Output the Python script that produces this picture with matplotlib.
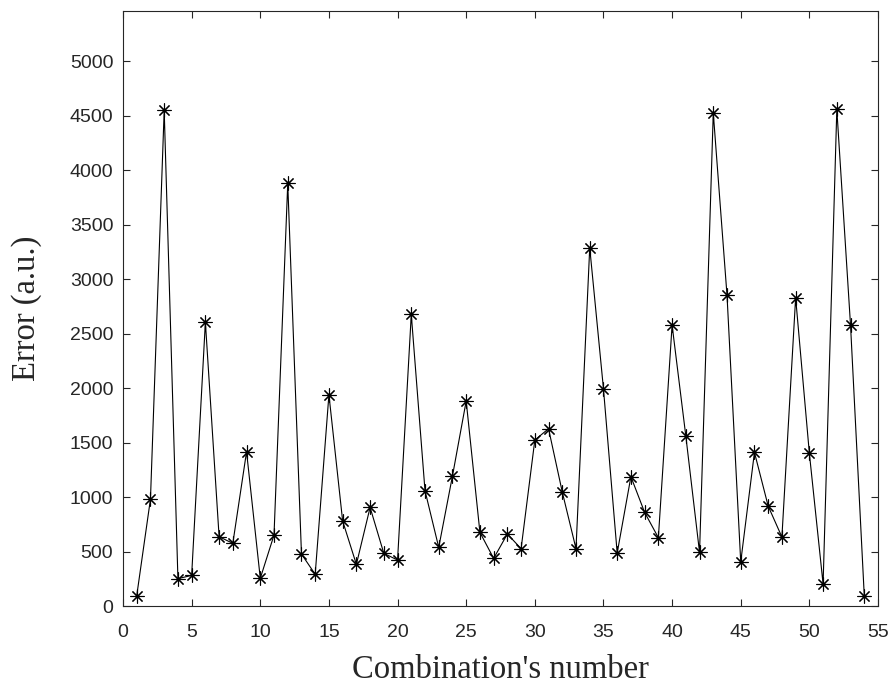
import numpy as np
import matplotlib
matplotlib.use("Agg")
import matplotlib.pyplot as plt

# combination index and error
combination = np.arange(1, 55)
error = [95, 982, 4550, 251, 281, 2606, 636, 575, 1416, 254,
         651, 3878, 477, 291, 1939, 780, 382, 905, 483, 422,
         2676, 1058, 538, 1193, 1881, 676, 437, 661, 526, 1523,
         1627, 1046, 526, 3288, 1994, 486, 1187, 859, 627, 2578,
         1560, 492, 4526, 2853, 404, 1410, 917, 633, 2829, 1401,
         202, 4557, 2575, 95]

xticks = np.arange(0, 56, 5)
yticks = np.arange(0, 5001, 500)

fig = plt.figure(figsize=(8.94, 6.86), dpi=100)
ax = fig.add_axes([0.1376, 0.1166, 0.8445, 0.8673])

ax.plot(combination, error, color="black", lw=0.8,
        marker=(8, 2, 0), markersize=10, markeredgewidth=0.8)

ax.set_xlim(0, 55)
ax.set_ylim(0, 5460)
ax.set_xticks(xticks)
ax.set_yticks(yticks)

frame = "#262626"
for s in ax.spines.values():
    s.set_color(frame)
    s.set_linewidth(0.8)
ax.tick_params(direction="in", top=True, right=True, length=5,
               width=0.8, color=frame, labelsize=14, labelcolor=frame)
ax.tick_params(axis="x", pad=13)
ax.tick_params(axis="y", pad=7)
for lab in ax.get_xticklabels() + ax.get_yticklabels():
    lab.set_family("Liberation Sans")

ax.set_xlabel("Combination's number", family="Liberation Serif", fontsize=23.5, color=frame, labelpad=10)
ax.set_ylabel("Error (a.u.)", family="Liberation Serif", fontsize=23.5, color=frame, labelpad=20)

fig.savefig("out.png", dpi=100)
